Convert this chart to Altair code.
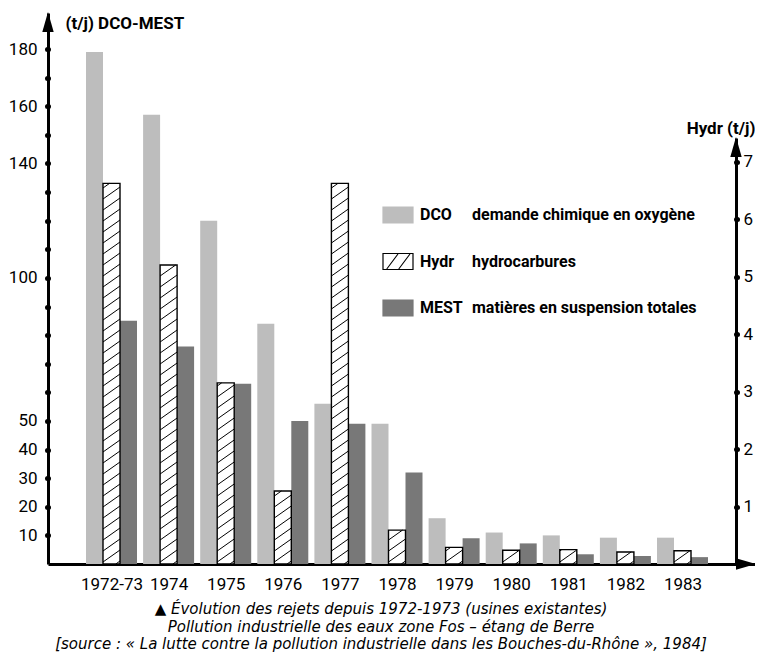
import json
import altair as alt
import pandas as pd

# ---------------- data ----------------
years = ["1972-73", "1974", "1975", "1976", "1977", "1978",
         "1979", "1980", "1981", "1982", "1983"]
dco = [179, 157, 120, 84, 56, 49, 16, 11, 10, 9.2, 9.2]
mest = [85, 76, 63, 50, 49, 32, 9, 7.2, 3.4, 2.8, 2.4]
hydr = [6.62, 5.2, 3.15, 1.27, 6.62, 0.59, 0.29, 0.24, 0.25, 0.21, 0.23]

left_tick_values = [10, 20, 30, 40, 50, 60, 70, 80, 90, 100,
                    110, 120, 130, 140, 150, 160, 170, 180]
left_label_values = [10, 20, 30, 40, 50, 100, 140, 160, 180]
right_tick_values = [1, 2, 3, 4, 5, 6, 7]

legend_keys = ["DCO", "Hydr", "MEST"]
legend_desc = ["demande chimique en oxygène", "hydrocarbures",
               "matières en suspension totales"]
caption = [
    "▲ Évolution des rejets depuis 1972-1973 (usines existantes)",
    "Pollution industrielle des eaux zone Fos – étang de Berre",
    "[source : « La lutte contre la pollution industrielle dans les Bouches-du-Rhône », 1984]",
]

# ---------------- layout / style ----------------
FONT = "Roboto"
LEFT = 48                   # page x of the left axis
W, H = 707, 551
STEP = 57.1                 # px per year group
FIRST = 111.5 - LEFT        # px from left axis to first group centre
BAR = 17 / STEP             # bar width in group units
X_DOMAIN = [-FIRST / STEP, (W - FIRST) / STEP]
PX_L = 2.861                # px per t/j on left scale
LEFT_MAX = H / PX_L
PX_R = 57.5                 # px per t/j on right scale
RIGHT_TOP = 125
RIGHT_MAX = (H - RIGHT_TOP) / PX_R
RIGHT_OFFSET = 736 - (LEFT + W)
C_DCO, C_MEST = "#bdbdbd", "#787878"

# ---------------- tables ----------------
left_rows = []
for i, y in enumerate(years):
    left_rows.append({"idx": i, "year": y, "series": "DCO", "value": dco[i]})
    left_rows.append({"idx": i, "year": y, "series": "MEST", "value": mest[i]})
df_left = pd.DataFrame(left_rows)
df_hydr = pd.DataFrame({"idx": list(range(len(years))), "year": years, "value": hydr})

# hatch pattern for the Hydr bars (derived from the bar heights)
RISE, GAP = 12.0, 11.0
hatch = []
for i, v in enumerate(hydr):
    hp = v * PX_R
    c = -RISE + 3
    while c < hp:
        t0 = max(0.0, -c / RISE)
        t1 = min(1.0, (hp - c) / RISE)
        if t1 > t0:
            hatch.append({
                "x0": i - 0.5 * BAR + BAR * t0, "x1": i - 0.5 * BAR + BAR * t1,
                "y0": (c + RISE * t0) / PX_R, "y1": (c + RISE * t1) / PX_R,
            })
        c += GAP
df_hatch = pd.DataFrame(hatch)

df_legend = pd.DataFrame({
    "row": [0, 1, 2], "key": legend_keys, "desc": legend_desc,
    "fill": [C_DCO, "#ffffff", C_MEST], "stroke": [C_DCO, "#000000", C_MEST],
})

# ---------------- scales & axes ----------------
xscale = alt.Scale(domain=X_DOMAIN, nice=False, zero=False)
x_label_expr = json.dumps(years) + "[datum.value]"
xaxis = alt.Axis(values=list(range(len(years))), labelExpr=x_label_expr,
                 ticks=False, tickSize=0, domainWidth=3, domainColor="black",
                 labelFont=FONT, labelFontSize=17, labelColor="black",
                 labelPadding=12, grid=False, title=None,
                 labelFlush=False, labelOverlap=False)

left_scale = alt.Scale(domain=[0, LEFT_MAX], nice=False, zero=True)
left_axis = alt.Axis(
    values=left_tick_values,
    labelExpr="indexof(" + json.dumps(left_label_values) + ", datum.value) >= 0 ? datum.label : ''",
    domainWidth=3, domainColor="black", tickColor="black", tickSize=1,
    tickWidth=5, tickCap="round", labelPadding=10, labelFont=FONT,
    labelFontSize=17, labelColor="black", labelOverlap=False, labelFlush=False,
    grid=False, title="(t/j) DCO-MEST", titleAngle=0, titleAlign="left",
    titleBaseline="middle", titleX=65 - LEFT, titleY=10, titleFont=FONT,
    titleFontSize=17, titleFontWeight="bold", titleColor="black")

right_scale = alt.Scale(domain=[0, RIGHT_MAX], range=[H, RIGHT_TOP], nice=False, zero=True)
right_axis = alt.Axis(
    orient="right", offset=RIGHT_OFFSET, values=right_tick_values,
    domainWidth=3, domainColor="black", tickColor="black", tickSize=1,
    tickWidth=5, tickCap="round", labelPadding=6, labelFont=FONT,
    labelFontSize=17, labelColor="black", labelAlign="left",
    labelOverlap=False, labelFlush=False, grid=False, format="d",
    title="Hydr (t/j)", titleAngle=0, titleAlign="right",
    titleBaseline="middle", titleX=-RIGHT_OFFSET, titleY=115, titleFont=FONT,
    titleFontSize=17, titleFontWeight="bold", titleColor="black")

legend_scale = alt.Scale(domain=[0, 2], range=[202, 295], nice=False, zero=False)

# ---------------- layers ----------------
left_bars = alt.Chart(df_left).transform_calculate(
    x0="datum.idx + (datum.series == 'DCO' ? -1.5 : 0.5) * " + repr(BAR),
    x1="datum.idx + (datum.series == 'DCO' ? -0.5 : 1.5) * " + repr(BAR),
).mark_bar().encode(
    x=alt.X("x0:Q", scale=xscale, axis=xaxis),
    x2="x1:Q",
    y=alt.Y("value:Q", scale=left_scale, axis=left_axis),
    y2=alt.datum(0),
    fill=alt.Fill("series:N", scale=alt.Scale(domain=["DCO", "MEST"], range=[C_DCO, C_MEST]), legend=None),
)

hydr_bars = alt.Chart(df_hydr).transform_calculate(
    x0="datum.idx - 0.5 * " + repr(BAR),
    x1="datum.idx + 0.5 * " + repr(BAR),
).mark_bar(fill="white", stroke="black", strokeWidth=1.4).encode(
    x=alt.X("x0:Q", scale=xscale, axis=xaxis),
    x2="x1:Q",
    y=alt.Y("value:Q", scale=right_scale, axis=right_axis),
    y2=alt.datum(0),
)

hatch_lines = alt.Chart(df_hatch).mark_rule(color="black", strokeWidth=1).encode(
    x=alt.X("x0:Q", scale=xscale, axis=xaxis),
    x2="x1:Q",
    y=alt.Y("y0:Q", scale=right_scale, axis=None),
    y2="y1:Q",
)

one = alt.Data(values=[{"a": 1}])
arrow_up = "M0,-0.05 L0.3,1 L-0.3,1 Z"
arrow_right = "M0.05,0 L-1,-0.3 L-1,0.3 Z"
arrow_left_axis = alt.Chart(one).mark_point(shape=arrow_up, size=1444, filled=True, color="black", opacity=1).encode(
    x=alt.value(0), y=alt.value(0))
arrow_right_axis = alt.Chart(one).mark_point(shape=arrow_up, size=1444, filled=True, color="black", opacity=1).encode(
    x=alt.value(W + RIGHT_OFFSET), y=alt.value(RIGHT_TOP))
arrow_x_axis = alt.Chart(one).mark_point(shape=arrow_right, size=1444, filled=True, color="black", opacity=1).encode(
    x=alt.value(W), y=alt.value(H))

RECT = "M-1,-0.533 L1,-0.533 L1,0.533 L-1,0.533 Z"
HATCH_SYM = "M-0.75,0.5 L0.0,-0.5 M0.05,0.5 L0.8,-0.5"
SW_X = 398 - LEFT
leg_swatch = alt.Chart(df_legend).mark_point(shape=RECT, size=900, filled=True, opacity=1, strokeWidth=1.2).encode(
    x=alt.value(SW_X),
    y=alt.Y("row:Q", scale=legend_scale, axis=None),
    fill=alt.Fill("fill:N", scale=None),
    stroke=alt.Stroke("stroke:N", scale=None),
)
leg_hatch = alt.Chart(df_legend).transform_filter("datum.row == 1").mark_point(
    shape=HATCH_SYM, size=900, filled=False, color="black", opacity=1, strokeWidth=1.1).encode(
    x=alt.value(SW_X),
    y=alt.Y("row:Q", scale=legend_scale, axis=None),
)
leg_key = alt.Chart(df_legend).mark_text(align="left", baseline="middle", font=FONT, fontSize=16,
                                          fontWeight="bold", color="black").encode(
    x=alt.value(420 - LEFT), y=alt.Y("row:Q", scale=legend_scale, axis=None), text="key:N")
leg_desc = alt.Chart(df_legend).mark_text(align="left", baseline="middle", font=FONT, fontSize=16,
                                           fontWeight="bold", color="black").encode(
    x=alt.value(472 - LEFT), y=alt.Y("row:Q", scale=legend_scale, axis=None), text="desc:N")

chart = alt.layer(
    left_bars, hydr_bars, hatch_lines,
    arrow_left_axis, arrow_right_axis, arrow_x_axis,
    leg_swatch, leg_hatch, leg_key, leg_desc,
).resolve_scale(y="independent").properties(
    width=W, height=H,
    autosize=alt.AutoSizeParams(type="none"),
    padding={"left": LEFT - 8, "top": 5, "right": 0, "bottom": 89},
    background="white",
    title=alt.TitleParams(text=caption, orient="bottom", anchor="middle", font="DejaVu Sans",
                          fontSize=15, fontStyle="italic", fontWeight="normal",
                          color="black", lineHeight=17.5, offset=10,
                          dx=381 - (LEFT + W / 2)),
).configure_view(stroke=None)

chart.save("out.html", embed_options={"renderer": "svg", "actions": False})
